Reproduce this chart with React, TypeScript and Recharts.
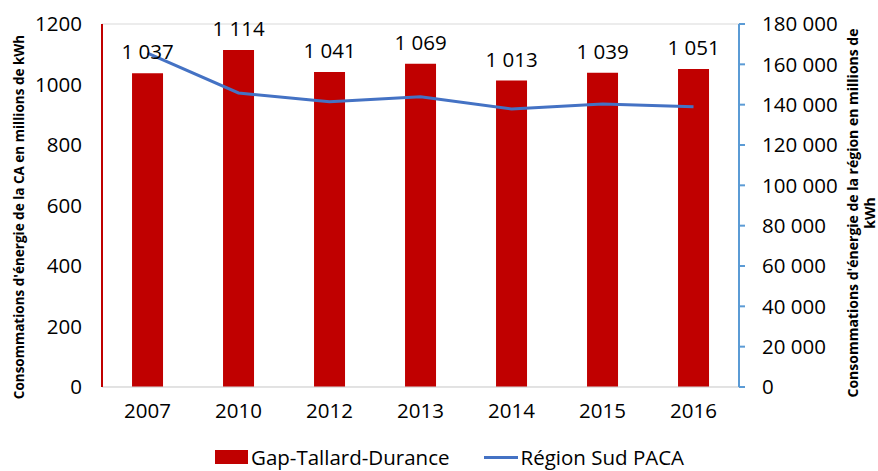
import { Bar, CartesianGrid, ComposedChart, LabelList, Line, XAxis, YAxis } from 'recharts'

const years = ['2007', '2010', '2012', '2013', '2014', '2015', '2016']
const gapTallard = [1037, 1114, 1041, 1069, 1013, 1039, 1051]
const regionPaca = [165600, 145800, 141500, 143900, 137900, 140300, 139000]
const leftTicks = [0, 200, 400, 600, 800, 1000, 1200]
const rightTicks = [0, 20000, 40000, 60000, 80000, 100000, 120000, 140000, 160000, 180000]

const chartData = years.map((year, i) => ({
  year,
  ca: gapTallard[i],
  region: regionPaca[i]
}))

const font = '"Open Sans", sans-serif'
const RED = '#C00000'
const BLUE = '#4472C4'
const FS = 20.5

// thousands separated by a non-breaking space so labels never wrap
const spaced = (v: number): string => String(v).replace(/\B(?=(\d{3})+(?!\d))/g, '\u00a0')

const App = (): React.JSX.Element => {
  return (
    <div style={{ position: 'absolute', left: 0, top: 0, width: 878, height: 471, fontFamily: font }}>
      <ComposedChart
        width={878}
        height={471}
        data={chartData}
        margin={{ top: 24, right: 39, left: 22, bottom: 44 }}
        barCategoryGap="33%"
      >
        <CartesianGrid vertical={false} stroke="#d9d9d9" strokeWidth={1} />
        <XAxis
          dataKey="year"
          height={40}
          axisLine={{ stroke: '#d9d9d9' }}
          tickLine={false}
          tickSize={0}
          tickMargin={16}
          tick={{ fill: '#000', fontSize: FS, fontFamily: font }}
        />
        <YAxis
          yAxisId="left"
          width={80}
          domain={[0, 1200]}
          ticks={leftTicks}
          axisLine={{ stroke: RED, strokeWidth: 2 }}
          tickLine={false}
          tickSize={0}
          tickMargin={20}
          tick={{ fill: '#000', fontSize: FS, fontFamily: font }}
        />
        <YAxis
          yAxisId="right"
          orientation="right"
          width={100}
          domain={[0, 180000]}
          ticks={rightTicks}
          tickFormatter={spaced}
          axisLine={{ stroke: '#5B9BD5', strokeWidth: 2 }}
          tickLine={{ stroke: '#5B9BD5', strokeWidth: 2 }}
          tickSize={6}
          tickMargin={17}
          tick={{ fill: '#000', fontSize: FS, fontFamily: font, textAnchor: 'start' }}
        />
        <Bar yAxisId="left" dataKey="ca" fill={RED} isAnimationActive={false} name="Gap-Tallard-Durance">
          <LabelList
            dataKey="ca"
            position="top"
            offset={14}
            formatter={(v: any) => spaced(Number(v))}
            style={{ fill: '#000', fontSize: FS, fontFamily: font }}
          />
        </Bar>
        <Line
          yAxisId="right"
          dataKey="region"
          type="linear"
          stroke={BLUE}
          strokeWidth={3}
          dot={false}
          isAnimationActive={false}
          name="Région Sud PACA"
        />
        <text
          transform="translate(19 217) rotate(-90)"
          textAnchor="middle"
          dominantBaseline="central"
          style={{ fontSize: 13.5, fontWeight: 700, fontFamily: font, fill: '#000' }}
        >
          Consommations d'énergie de la CA en millions de kWh
        </text>
        <text
          transform="translate(852 213) rotate(-90)"
          textAnchor="middle"
          dominantBaseline="central"
          style={{ fontSize: 14, fontWeight: 700, fontFamily: font, fill: '#000' }}
        >
          Consommations d'énergie de la région en millions de
        </text>
        <text
          transform="translate(869 213) rotate(-90)"
          textAnchor="middle"
          dominantBaseline="central"
          style={{ fontSize: 14, fontWeight: 700, fontFamily: font, fill: '#000' }}
        >
          kWh
        </text>
      </ComposedChart>
      <div
        style={{
          position: 'absolute',
          top: 445,
          left: 215,
          width: 520,
          height: 24,
          display: 'flex',
          alignItems: 'center',
          whiteSpace: 'nowrap',
          fontSize: FS,
          color: '#000',
          lineHeight: '24px'
        }}
      >
        <span style={{ display: 'inline-block', width: 33, height: 14, background: RED, marginRight: 3 }} />
        <span>Gap-Tallard-Durance</span>
        <span style={{ display: 'inline-block', width: 34, height: 3, background: BLUE, marginLeft: 34, marginRight: 3 }} />
        <span>Région Sud PACA</span>
      </div>
    </div>
  )
}

export default App
